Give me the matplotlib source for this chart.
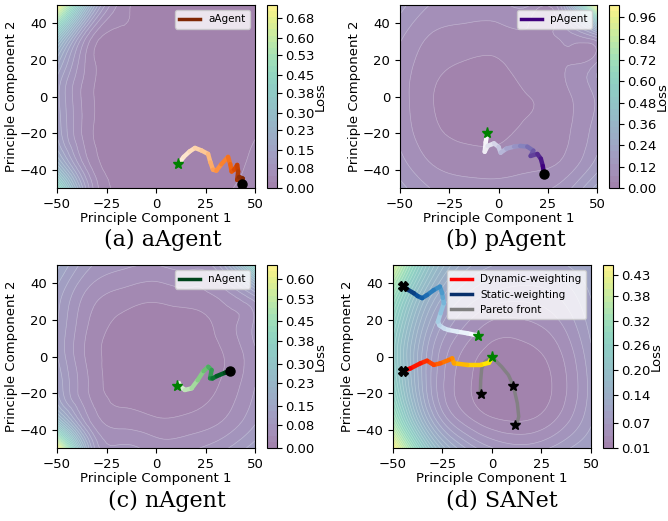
import matplotlib
matplotlib.use("Agg")
import matplotlib.pyplot as plt
import numpy as np
from matplotlib.collections import LineCollection
from matplotlib.colors import ListedColormap
from matplotlib.lines import Line2D
from matplotlib.tri import Triangulation, UniformTriRefiner, CubicTriInterpolator

# --- loss surface grids (rows: y = -50 .. 50, cols: x = -50 .. 50) ---
grid_x = [-50, -33.3, -16.7, 0, 16.7, 33.3, 50]
grid_y = [-50, -33.3, -16.7, 0, 16.7, 33.3, 50]

loss_a = [[0.45, 0.09, 0.02, 0.012, 0.012, 0.02, 0.035],
          [0.20, 0.04, 0.012, 0.006, 0.005, 0.01, 0.03],
          [0.14, 0.03, 0.01, 0.004, 0.002, 0.006, 0.02],
          [0.13, 0.03, 0.01, 0.004, 0.002, 0.005, 0.015],
          [0.17, 0.035, 0.012, 0.006, 0.004, 0.006, 0.014],
          [0.33, 0.06, 0.018, 0.01, 0.008, 0.01, 0.016],
          [0.73, 0.22, 0.035, 0.016, 0.014, 0.016, 0.02]]
loss_b = [[0.15, 0.10, 0.085, 0.08, 0.09, 0.12, 0.22],
          [0.11, 0.06, 0.045, 0.045, 0.055, 0.07, 0.14],
          [0.09, 0.04, 0.025, 0.025, 0.04, 0.06, 0.12],
          [0.085, 0.035, 0.015, 0.02, 0.035, 0.06, 0.11],
          [0.09, 0.045, 0.03, 0.03, 0.045, 0.065, 0.12],
          [0.11, 0.065, 0.055, 0.055, 0.06, 0.08, 0.16],
          [0.15, 0.10, 0.09, 0.09, 0.10, 0.18, 1.03]]
loss_c = [[0.64, 0.14, 0.07, 0.055, 0.06, 0.08, 0.12],
          [0.22, 0.06, 0.03, 0.022, 0.025, 0.04, 0.08],
          [0.13, 0.04, 0.012, 0.006, 0.008, 0.025, 0.065],
          [0.11, 0.035, 0.01, 0.002, 0.004, 0.02, 0.06],
          [0.11, 0.04, 0.015, 0.008, 0.01, 0.03, 0.07],
          [0.12, 0.055, 0.035, 0.028, 0.035, 0.05, 0.11],
          [0.16, 0.09, 0.07, 0.065, 0.075, 0.12, 0.38]]
loss_d = [[0.45, 0.22, 0.11, 0.07, 0.06, 0.075, 0.10],
          [0.32, 0.13, 0.05, 0.025, 0.022, 0.04, 0.08],
          [0.26, 0.10, 0.035, 0.012, 0.012, 0.03, 0.075],
          [0.24, 0.10, 0.04, 0.018, 0.018, 0.035, 0.08],
          [0.26, 0.12, 0.06, 0.035, 0.035, 0.05, 0.09],
          [0.31, 0.16, 0.09, 0.065, 0.06, 0.07, 0.10],
          [0.40, 0.22, 0.13, 0.10, 0.09, 0.095, 0.115]]

loss_range = {"a": (0.0, 0.73), "b": (0.0, 1.03), "c": (0.0, 0.65), "d": (0.01, 0.455)}
cbar_ticks = {
    "a": [0.00, 0.08, 0.15, 0.23, 0.30, 0.38, 0.45, 0.53, 0.60, 0.68],
    "b": [0.00, 0.12, 0.24, 0.36, 0.48, 0.60, 0.72, 0.84, 0.96],
    "c": [0.00, 0.08, 0.15, 0.23, 0.30, 0.38, 0.45, 0.53, 0.60],
    "d": [0.01, 0.07, 0.14, 0.20, 0.26, 0.32, 0.38, 0.43],
}

# --- trajectories (from star end to start marker) ---
a_x = [11.3, 14, 17, 19.7, 23, 26.3, 27.5, 28.8, 30.5, 33, 36.4, 37.5, 38.2, 39.5, 41, 41.5, 41, 42, 43.8, 43.3]
a_y = [-37, -33, -30, -28.1, -29.5, -31.4, -36, -40, -40.5, -37, -33, -37, -41, -40, -37.4, -41, -45.6, -44, -44.8, -48]

p_x = [-5.7, -6.5, -7, -5.5, -2.3, 0, 1.1, 4, 7.9, 11, 14.6, 17.7, 16.3, 19.7, 21.5, 22.5, 23.1]
p_y = [-20.1, -25, -30.2, -27, -25.6, -27.5, -30.7, -28.5, -27.4, -27, -27.4, -29.6, -32.5, -31.4, -34, -38, -42.5]

n_x = [10.8, 11.5, 12.5, 14.6, 18, 21, 24, 26.4, 28.1, 27.3, 28.5, 30.7, 34.8, 37.4]
n_y = [-16.1, -14.5, -16.5, -18.3, -17.4, -13, -8, -5.6, -7.4, -11.9, -12, -10.7, -8.9, -7.9]

static_x = [-6.9, -12.5, -17.6, -22, -24.3, -26.5, -27.3, -26, -24.3, -24.8, -25.2, -26.3, -29.4, -32.8, -35.3, -37.5, -39.5, -42.5, -45.1]
static_y = [11.4, 12.7, 13.6, 14.5, 15.4, 17, 19, 23.6, 29.1, 32, 34.6, 38.2, 36.3, 33.6, 31.9, 33, 34.6, 36.5, 38.7]

dyn_x = [0.2, -1.5, -5.7, -12.5, -19.2, -20.1, -21.8, -26, -29.4, -32.8, -36.1, -41.2, -45.1]
dyn_y = [-0.1, -3.4, -4.6, -4.6, -3.7, -1, -1.9, -3.7, -4.6, -2.3, -3.7, -6.5, -7.9]

pareto1_x = [0.2, -3.5, -5.2, -5.7, -5.9]
pareto1_y = [-0.1, -2.8, -6.5, -12.9, -20.2]
pareto2_x = [0.2, 1.5, 4.9, 8.3, 10.8, 12.8, 13.5, 12.5]
pareto2_y = [-0.1, -1.9, -5.6, -10.1, -16.1, -25.6, -32.9, -36.9]
pareto_end_x = [-5.7, 10.7, 11.7]
pareto_end_y = [-20.5, -16.1, -37.3]

# viridis seen through alpha=0.5 on white, as a solid colormap (no seams)
_v = plt.get_cmap("viridis")(np.linspace(0, 1, 256))
_v[:, :3] = _v[:, :3] * 0.5 + 0.5
soft_viridis = ListedColormap(_v)

# --- figure layout in pixels ---
W, H = 668, 521
fig = plt.figure(figsize=(W / 100, H / 100), dpi=100)


def px_axes(x0, y0, x1, y1):
    return fig.add_axes([x0 / W, 1 - y1 / H, (x1 - x0) / W, (y1 - y0) / H])


def gradient_line(ax, xs, ys, cmap, lo, hi, lw=3.2, zorder=4):
    pts = np.column_stack([xs, ys]).reshape(-1, 1, 2)
    segs = np.concatenate([pts[:-1], pts[1:]], axis=1)
    lc = LineCollection(segs, cmap=cmap, norm=plt.Normalize(0, 1), linewidths=lw,
                        capstyle="round", joinstyle="round", zorder=zorder)
    lc.set_array(np.linspace(lo, hi, len(segs)))
    ax.add_collection(lc)


def panel(key, loss, axbox, cbbox, caption_xy, caption):
    ax = px_axes(*axbox)
    gx, gy = np.meshgrid(grid_x, grid_y)
    z = np.array(loss, dtype=float).ravel()
    tri = Triangulation(gx.ravel(), gy.ravel())
    interp = CubicTriInterpolator(tri, z, kind="min_E")
    tri_f, z_f = UniformTriRefiner(tri).refine_field(z, triinterpolator=interp, subdiv=3)
    lo, hi = loss_range[key]
    z_f = np.clip(z_f, lo, hi)
    levels = np.linspace(lo, hi, 31)
    cf = ax.tricontourf(tri_f, z_f, levels=levels, cmap=soft_viridis)
    ax.tricontour(tri_f, z_f, levels=levels, colors="white", linewidths=0.5, alpha=0.3)
    ax.set_xlim(-50, 50)
    ax.set_ylim(-50, 50)
    ax.set_xticks([-50, -25, 0, 25, 50])
    ax.set_yticks([-40, -20, 0, 20, 40])
    ax.tick_params(labelsize=9.5)
    ax.set_xlabel("Principle Component 1", fontsize=9.5, labelpad=1)
    ax.set_ylabel("Principle Component 2", fontsize=9.5, labelpad=1)

    cax = px_axes(*cbbox)
    cb = fig.colorbar(cf, cax=cax, ticks=cbar_ticks[key])
    cb.ax.set_yticklabels(["%.2f" % t for t in cbar_ticks[key]])
    cb.ax.tick_params(labelsize=9.5, pad=2)
    cb.set_label("Loss", fontsize=9.5, labelpad=0)

    fig.text(caption_xy[0] / W, 1 - caption_xy[1] / H, caption, ha="center", va="center",
             family="DejaVu Serif", fontsize=16)
    return ax


# (a) aAgent
ax = panel("a", loss_a, (57, 5, 255, 188), (267, 5, 277, 188), (163, 240), "(a) aAgent")
gradient_line(ax, a_x, a_y, "Oranges", 0.08, 1.0)
ax.plot(a_x[0], a_y[0], marker="*", color="green", ms=8, ls="none", zorder=6)
ax.plot(a_x[-1], a_y[-1], marker="o", color="black", ms=6.5, ls="none", zorder=6)
ax.legend(handles=[Line2D([], [], color=plt.get_cmap("Oranges")(1.0), lw=2.5)], labels=["aAgent"],
          loc="upper right", fontsize=7.5)

# (b) pAgent
ax = panel("b", loss_b, (400, 5, 597, 188), (609, 5, 619, 188), (506, 240), "(b) pAgent")
gradient_line(ax, p_x, p_y, "Purples", 0.0, 1.0)
ax.plot(p_x[0], p_y[0], marker="*", color="green", ms=8, ls="none", zorder=6)
ax.plot(p_x[-1], p_y[-1], marker="o", color="black", ms=6.5, ls="none", zorder=6)
ax.legend(handles=[Line2D([], [], color=plt.get_cmap("Purples")(1.0), lw=2.5)], labels=["pAgent"],
          loc="upper right", fontsize=7.5)

# (c) nAgent
ax = panel("c", loss_c, (57, 265, 255, 448), (267, 265, 277, 448), (167, 501), "(c) nAgent")
gradient_line(ax, n_x, n_y, "Greens", 0.05, 1.0)
ax.plot(n_x[0], n_y[0], marker="*", color="green", ms=8, ls="none", zorder=6)
ax.plot(n_x[-1], n_y[-1], marker="o", color="black", ms=6.5, ls="none", zorder=6)
ax.legend(handles=[Line2D([], [], color=plt.get_cmap("Greens")(1.0), lw=2.5)], labels=["nAgent"],
          loc="upper right", fontsize=7.5)

# (d) SANet
ax = panel("d", loss_d, (393, 265, 591, 448), (603, 265, 613, 448), (502, 501), "(d) SANet")
gradient_line(ax, static_x, static_y, "Blues", 0.0, 1.0)
gradient_line(ax, dyn_x, dyn_y, "autumn", 1.0, 0.0)
ax.plot(pareto1_x, pareto1_y, color="gray", lw=2.5, alpha=0.9, zorder=3)
ax.plot(pareto2_x, pareto2_y, color="gray", lw=2.5, alpha=0.9, zorder=3)
ax.plot(pareto_end_x, pareto_end_y, marker="*", color="black", ms=7, ls="none", zorder=6)
ax.plot([static_x[0], dyn_x[0]], [static_y[0], dyn_y[0]], marker="*", color="green", ms=8, ls="none", zorder=6)
ax.plot([static_x[-1], dyn_x[-1]], [static_y[-1], dyn_y[-1]], marker="X", color="black", ms=7, ls="none", zorder=6)
ax.legend(handles=[Line2D([], [], color="red", lw=2.5),
                   Line2D([], [], color=plt.get_cmap("Blues")(1.0), lw=2.5),
                   Line2D([], [], color="gray", lw=2.5)],
          labels=["Dynamic-weighting", "Static-weighting", "Pareto front"],
          loc="upper right", fontsize=7.5)

fig.savefig("out.png", dpi=100)
